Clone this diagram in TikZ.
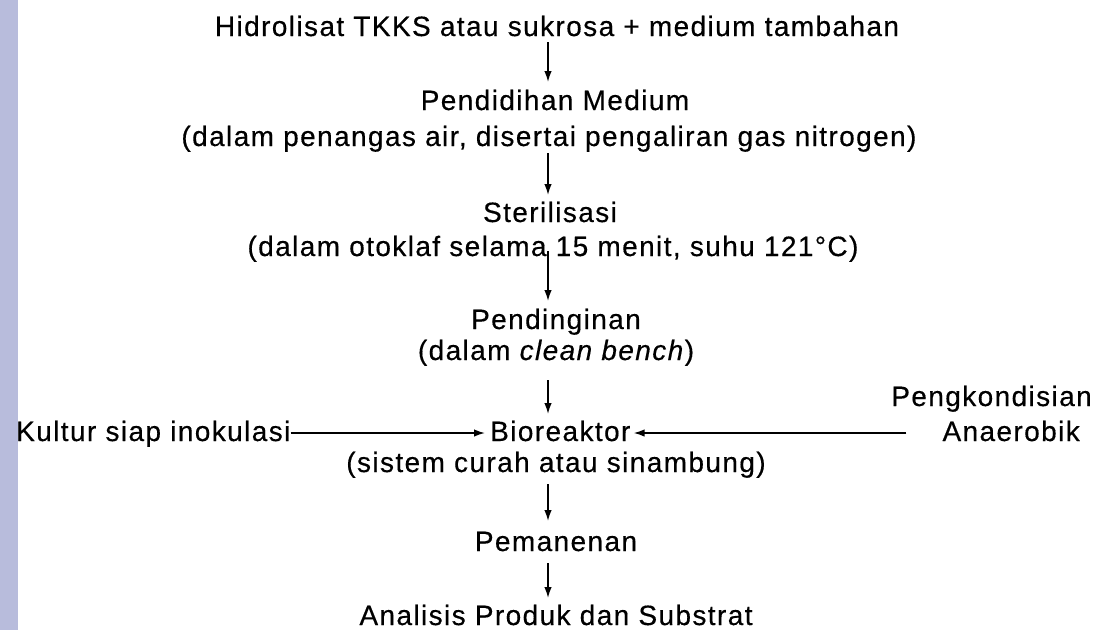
\documentclass[tikz,border=0pt]{standalone}
\usepackage{fontspec}
\setmainfont{Liberation Sans}[LetterSpace=5.0,FakeBold=0.4]
\usetikzlibrary{arrows.meta}
\definecolor{barcol}{RGB}{184,188,220}
\begin{document}
\begin{tikzpicture}[x=1pt,y=-1pt,
  lbl/.style={anchor=base, inner sep=0pt, font=\fontsize{28}{34}\selectfont},
  arr/.style={-{Latex[length=11pt,width=7.5pt]}, line width=1.6pt}]
\useasboundingbox (0,0) rectangle (1097,630);
\fill[barcol] (0,0) rectangle (18,630);
\coordinate (ax) at (548,0);
\node[lbl] (hid) at (557,36) {Hidrolisat TKKS atau sukrosa + medium tambahan};
\node[lbl] (pend) at (555,110) {Pendidihan Medium};
\node[lbl] (pend2) at (549,146) {(dalam penangas air, disertai pengaliran gas nitrogen)};
\node[lbl] (ster) at (550,222) {Sterilisasi};
\node[lbl] (ster2) at (553,256) {(dalam otoklaf selama 15 menit, suhu 121°C)};
\node[lbl] (ding) at (556,329) {Pendinginan};
\node[lbl] (ding2) at (556,360) {(dalam \textit{clean bench})};
\node[lbl, anchor=base east] (pk1) at (1092,406) {Pengkondisian};
\node[lbl, anchor=base east] (pk2) at (1080,441) {Anaerobik};
\node[lbl, anchor=base west] (kul) at (16,441) {Kultur siap inokulasi};
\node[lbl, anchor=base west] (bio) at (490,441) {Bioreaktor};
\node[lbl] (bio2) at (556,472) {(sistem curah atau sinambung)};
\node[lbl] (pan) at (556,551) {Pemanenan};
\node[lbl] (ana) at (556,625) {Analisis Produk dan Substrat};
\draw[arr] ([yshift=-6pt]hid.base -| ax) -- ([yshift=28pt]pend.base -| ax);
\draw[arr] ([yshift=-7pt]pend2.base -| ax) -- ([yshift=27pt]ster.base -| ax);
\draw[arr] ([yshift=5pt]ster2.base -| ax) -- ([yshift=28pt]ding.base -| ax);
\draw[arr] ([yshift=-20pt]ding2.base -| ax) -- ([yshift=27pt]bio.base -| ax);
\draw[arr] ([yshift=-12pt]bio2.base -| ax) -- ([yshift=30pt]pan.base -| ax);
\draw[arr] ([yshift=-12pt]pan.base -| ax) -- ([yshift=27pt]ana.base -| ax);
\draw[arr] ([yshift=8pt]kul.base east) -- ([xshift=-5pt,yshift=8pt]bio.base west);
\draw[arr] ([xshift=-36pt,yshift=8pt]pk2.base west) -- ([xshift=3pt,yshift=8pt]bio.base east);
\end{tikzpicture}
\end{document}
